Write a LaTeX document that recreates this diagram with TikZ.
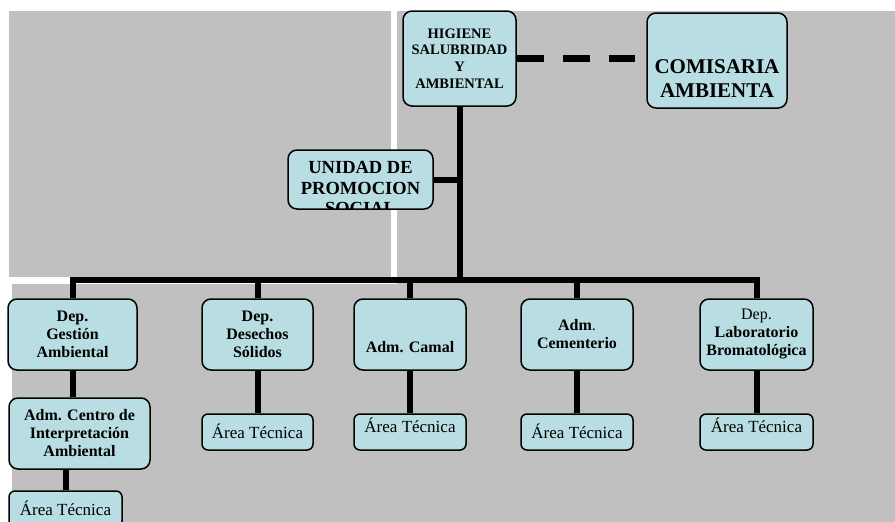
\documentclass[tikz,border=0pt]{standalone}
\usepackage{fontspec}
\setmainfont{Liberation Serif}
\definecolor{panel}{RGB}{192,192,192}
\definecolor{boxfill}{RGB}{184,222,227}
\tikzstyle{box}=[draw=black,line width=1.5pt,fill=boxfill,rounded corners=9pt,inner sep=0pt,align=center]
\tikzstyle{dep}=[box,minimum height=71pt,font=\fontsize{16}{18}\selectfont\bfseries]
\tikzstyle{area}=[box,minimum height=36pt,rounded corners=6pt,text height=12pt,text depth=0pt,font=\fontsize{17}{20}\selectfont]
\tikzstyle{link}=[line width=6pt]

\begin{document}
\begin{tikzpicture}[x=1pt,y=-1pt]
          \useasboundingbox (0,0) rectangle (895,522);
          \clip (0,0) rectangle (895,522);
          \fill[panel] (9,11) rectangle (391,277);
          \fill[panel] (397,11) rectangle (895,284);
          \fill[panel] (12,284) rectangle (895,522);
          \node[box,minimum width=113pt,minimum height=95pt,font=\fontsize{14.5}{16.7}\selectfont\bfseries] (H) at (459.5,58.5) {HIGIENE\\SALUBRIDAD\\Y\\AMBIENTAL};
          \node[box,minimum width=140pt,minimum height=95pt,text height=80pt,text depth=7pt,font=\fontsize{21}{23.5}\selectfont\bfseries] (K) at (717,60.5) {COMISARIA\\AMBIENTA};
          \node[box,minimum width=145pt,minimum height=59pt,
                path picture={\node[draw=none,fill=none,inner sep=0pt,align=center,font=\fontsize{18.5}{20.5}\selectfont\bfseries] (Ut) at ([yshift=-8.5pt]path picture bounding box.center) {UNIDAD DE\\PROMOCION\\SOCIAL};}] (U) at (360.5,179.5) {};
          \node[dep,minimum width=129pt] (R1) at (72.5,334.5) {Dep.\\Gestión\\Ambiental};
          \node[dep,minimum width=111pt] (R2) at (257.5,334.5) {Dep.\\Desechos\\Sólidos};
          \node[dep,minimum width=112pt,text height=35pt,text depth=0pt] (R3) at (410,334.5) {Adm. Camal};
          \node[dep,minimum width=112pt] (R4) at (577,334.5) {Adm\textmd{.}\\Cementerio};
          \node[dep,minimum width=113pt] (R5) at (756.5,334.5) {\textmd{Dep.}\\Laboratorio\\Bromatológica};
          \node[dep,minimum width=141pt] (C1) at (79.5,433.5) {Adm. Centro de\\Interpretación\\Ambiental};
          \node[area,minimum width=113pt] (A1) at (65.5,509) {Área Técnica};
          \node[area,minimum width=111pt] (A2) at (257.5,432) {Área Técnica};
          \node[area,minimum width=112pt,text depth=12pt] (A3) at (410,432) {Área Técnica};
          \node[area,minimum width=112pt] (A4) at (577,432) {Área Técnica};
          \node[area,minimum width=113pt,text depth=12pt] (A5) at (756.5,432) {Área Técnica};
          \coordinate (bus) at (459.5,280);
          \draw[link] (H.south) -- (bus);
          \draw[link] (R1.north) |- (bus) -| (R5.north);
          \draw[link] (R2.north) -- (R2.north |- bus);
          \draw[link] (R3.north) -- (R3.north |- bus);
          \draw[link] (R4.north) -- (R4.north |- bus);
          \draw[link] (U.east) -- (U.east -| H.south);
          \draw[link] (R1.south) -- (R1.south |- C1.north);
          \draw[link] (A1.north) -- (A1.north |- C1.south);
          \draw[link] (R2.south) -- (A2.north);
          \draw[link] (R3.south) -- (A3.north);
          \draw[link] (R4.south) -- (A4.north);
          \draw[link] (R5.south) -- (A5.north);
          \draw[line width=7.5pt,dash pattern=on 27pt off 19pt,shorten >=11pt] (H.east) -- (H.east -| K.west);
        \end{tikzpicture}
\end{document}
